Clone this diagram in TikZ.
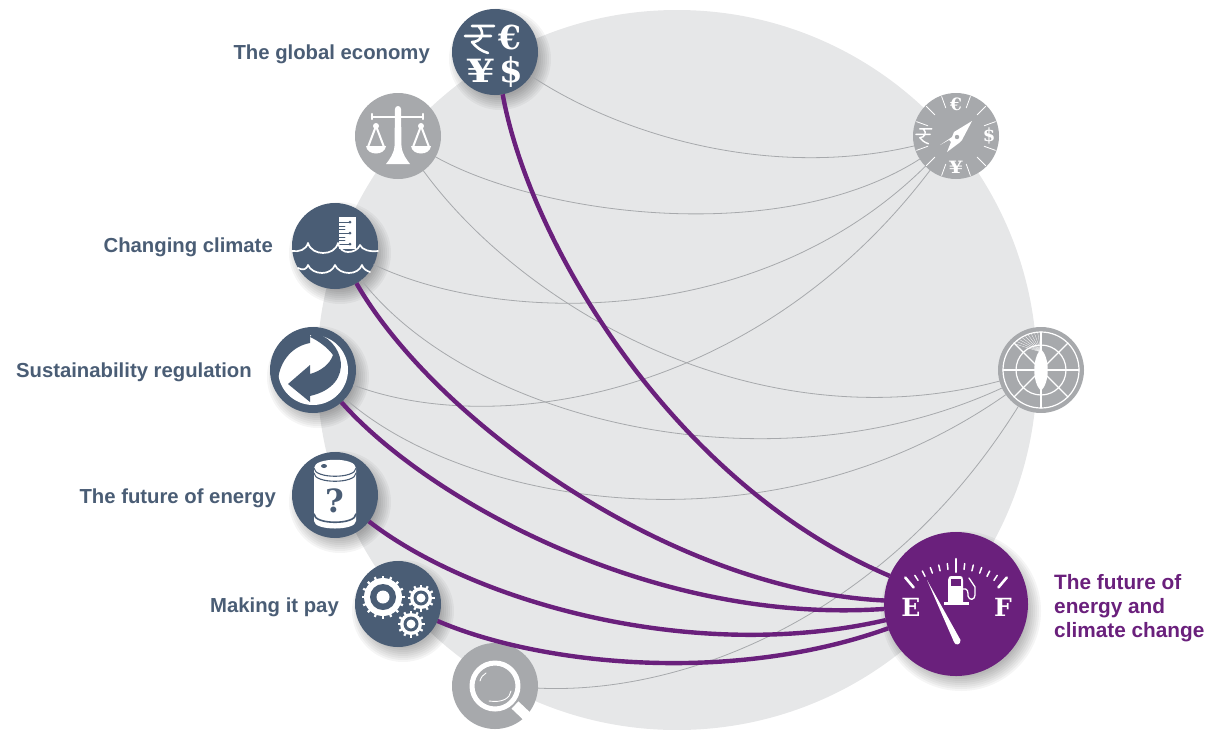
\documentclass[tikz,border=0pt]{standalone}
\usepackage{fontspec}
\setmainfont{Liberation Sans}
\newfontfamily\iconfont{DejaVu Serif}
\definecolor{slate}{HTML}{4A5D75}
\definecolor{mist}{HTML}{A7A9AC}
\definecolor{pale}{HTML}{E6E7E8}
\definecolor{plum}{HTML}{6A207C}
\tikzset{
	hub/.style={circle,minimum size=86pt,inner sep=0pt,outer sep=0pt},
	thread/.style={draw=mist,line width=0.8pt},
	strand/.style={draw=plum,line width=4.4pt,line cap=butt},
	caption/.style={text=slate,font=\bfseries\fontsize{20.3}{24}\selectfont,inner sep=0pt},
	sign/.style={text=white,inner sep=0pt,font=\iconfont\bfseries\fontsize{#1}{#1}\selectfont},
}
\newcommand{\rupeesign}[1]{\draw[white,line width=#1,line cap=round]
	(-6,-13)--(16,-13) (-13,-3)--(13,-3)
	(1,-12) .. controls (7,-7) and (4,3) .. (-6,3) .. controls (-2,8) and (3,12) .. (10,14);}
\newcommand{\gearwheel}[4]{
	\fill[white] (#1,#2) circle (#3);
	\foreach \a in {0,#4,...,359}
	\draw[white,line width=2.2pt,line cap=butt] (#1,#2)++(\a:#3-1)--++(\a:3.5);}
\begin{document}
\begin{tikzpicture}[x=1pt,y=-1pt,line join=round,line cap=round]
	\useasboundingbox (0,0) rectangle (1218,729);
	\fill[pale] (677,370) circle (360);
	
	\foreach \a/\b/\r in {495/52/43,335/246/43,313/370/43,335/495/43,398/604/43,956/604/72}
	\foreach \k in {0,...,7}
	\fill[black,opacity=.04] (\a+5,\b+7) circle ({\r+8-2*\k});
	
	\foreach \p/\c/\a/\b in {economy/slate/495/52,balance/mist/398/136,climate/slate/335/246,
		regulation/slate/313/370,energy/slate/335/495,profit/slate/398/604,search/mist/495/686,
		compass/mist/956/136,radar/mist/1041/370}
	\node[hub,fill=\c] (\p) at (\a,\b) {};
	\node[hub,fill=plum,minimum size=144pt] (fuel) at (956,604) {};
	
	\draw[thread] (economy) .. controls (620,135) and (770,180) .. (compass);
	\draw[thread] (balance) .. controls (540,215) and (780,248) .. (compass);
	\draw[thread] (climate) .. controls (500,325) and (760,330) .. (compass);
	\draw[thread] (regulation) .. controls (500,440) and (760,395) .. (compass);
	\draw[thread] (balance) .. controls (525,310) and (760,445) .. (radar);
	\draw[thread] (climate) .. controls (470,420) and (770,495) .. (radar);
	\draw[thread] (regulation) .. controls (465,505) and (770,560) .. (radar);
	\draw[thread] (search) .. controls (680,695) and (885,620) .. (radar);
	
	\draw[strand] (economy) .. controls (530,245) and (675,485) .. (fuel);
	\draw[strand] (climate) .. controls (435,420) and (670,590) .. (fuel);
	\draw[strand] (regulation) .. controls (425,497) and (650,625) .. (fuel);
	\draw[strand] (energy) .. controls (470,600) and (690,665) .. (fuel);
	\draw[strand] (profit) .. controls (540,665) and (730,685) .. (fuel);
	
	\node[caption,anchor=base east] (economylabel) at (430,59) {The global economy};
	\node[caption,anchor=base east] (climatelabel) at (273,252) {Changing climate};
	\node[caption,anchor=base east] (regulationlabel) at (252,377) {Sustainability regulation};
	\node[caption,anchor=base east] (energylabel) at (276,503) {The future of energy};
	\node[caption,anchor=base east] (profitlabel) at (339,612) {Making it pay};
	\node[caption,text=plum,font=\bfseries\fontsize{20.8}{24}\selectfont,anchor=west,align=left] (fuellabel) at (1054,608)
	{The future of\\energy and\\climate change};
	
	% currencies
	\begin{scope}[shift={(economy.center)}]
		\begin{scope}[shift={(-17,-13)}]
			\rupeesign{2.6pt}
		\end{scope}
		\node[sign=33] (euro) at (15,-15) {€};
		\node[sign=32,xscale=1.3] (yen) at (-14,19) {¥};
		\node[sign=34] (dollar) at (16,20) {\$};
	\end{scope}
	
	% scales
	\begin{scope}[shift={(balance.center)}]
		\fill[white] (-3,-27) arc[start angle=180,end angle=360,radius=3] -- (3.5,10) .. controls (4,18) and (9,24) .. (12,28) -- (-12,28) .. controls (-9,24) and (-4,18) .. (-3.5,10) -- cycle;
		\draw[white,line width=2.4pt] (-26,-19)--(25,-19) (-26,-22)--(-26,-17) (25,-22)--(25,-17);
		\foreach \s in {-22,23} {
			\fill[white] (\s,-10) circle (3);
			\draw[white,line width=2pt] (\s,-10)--(\s-8,11)--(\s+8,11)--cycle;
			\fill[white] (\s-10,10) .. controls (\s-9,20) and (\s+9,20) .. (\s+10,10) -- cycle;
		}
	\end{scope}
	
	% gauge and waves
	\begin{scope}[shift={(climate.center)}]
		\fill[white] (4,-29) rectangle (21,3);
		\foreach \y in {-24,-13,-2} {
			\draw[slate,line width=.9pt] (4,\y)--(15,\y);
			\fill[slate] (15,\y) circle (1.5);
		}
		\draw[slate,line width=.9pt] (4,-20)--(10,-20) (4,-17)--(10,-17) (4,-9)--(10,-9) (4,-6)--(10,-6);
		\draw[white,line width=1.7pt] (-43,5) .. controls (-36,6) and (-29,4) .. (-27,-3) .. controls (-25,4) and (-18,7) .. (-12,7) .. controls (-5,7) and (1,4) .. (3,-3) .. controls (5,4) and (9,6) .. (13,6) .. controls (18,6) and (23,4) .. (25,-1) .. controls (27,4) and (35,6) .. (43,5);
		\draw[white,line width=1.7pt] (-37,22) .. controls (-32,25) and (-28,23) .. (-27,19) .. controls (-25,24) and (-19,27) .. (-13,27) .. controls (-7,27) and (-2,24) .. (0,19) .. controls (2,24) and (8,27) .. (14,27) .. controls (20,27) and (25,24) .. (27,19) .. controls (28,23) and (32,25) .. (35,26);
	\end{scope}
	
	% recycling arrows
	\begin{scope}[shift={(regulation.center)}]
		\fill[white] (0,0) circle (35);
		\fill[slate] (-25,14)--(-3,-5)--(-3,4) .. controls (8,1) and (17,-6) .. (20,-15) .. controls (15,-22) and (6,-29) .. (-3,-33) -- (0,-37) .. controls (30,-33) and (45,15) .. (-3,26) -- (-3,32) -- cycle;
		\fill[slate] (-35,10) .. controls (-33,-10) and (-20,-24) .. (-3,-27) -- (-3,-38) -- (-25,-32) -- (-38,-8) -- (-37,10) -- cycle;
	\end{scope}
	
	% barrel
	\begin{scope}[shift={(energy.center)}]
		\fill[white] (-21,-27) .. controls (-21,-38) and (21,-38) .. (21,-27) -- (21,26) .. controls (21,36) and (-21,36) .. (-21,26) -- cycle;
		\draw[slate,line width=1.1pt] (-21,-27) .. controls (-21,-16) and (21,-16) .. (21,-27) (-21,-22) .. controls (-21,-11) and (21,-11) .. (21,-22);
		\draw[slate,line width=1.6pt] (-21,19) .. controls (-21,30) and (21,30) .. (21,19);
		\fill[slate] (-11,-29) ellipse (3 and 2);
		\node[sign=32,text=slate] (query) at (0,6) {?};
	\end{scope}
	
	% gears
	\begin{scope}[shift={(profit.center)}]
		\gearwheel{-15}{-7}{19}{22.5}
		\fill[slate] (-15,-7) circle (13);
		\fill[white] (-15,-7) circle (6.5);
		\gearwheel{23}{-6}{11}{30}
		\fill[slate] (23,-6) circle (7.5);
		\fill[white] (23,-6) circle (4.5);
		\gearwheel{13}{20}{11}{30}
		\fill[slate] (13,20) circle (7.5);
		\fill[white] (13,20) circle (4.5);
	\end{scope}
	
	% magnifier
	\begin{scope}[shift={(search.center)}]
		\draw[white,line width=5pt] (0,0) circle (23);
		\draw[white,line width=10pt,line cap=butt] (20,19)--(39,37);
		\draw[white,line width=.9pt] (-15,-5) .. controls (-14,-9) and (-12,-11) .. (-9,-13);
		\draw[white,line width=.9pt] (16,5) .. controls (15,12) and (8,17) .. (-6,15);
	\end{scope}
	
	% compass rocket
	\begin{scope}[shift={(compass.center)}]
		\foreach \a in {20,45,70,110,135,160,200,225,250,290,315,340}
		\draw[white,line width=.8pt] (\a:30)--(\a:42);
		\node[sign=17] (euro2) at (0,-32) {€};
		\node[sign=18] (dollar2) at (33,0) {\$};
		\node[sign=17,xscale=1.25] (yen2) at (0,31) {¥};
		\begin{scope}[shift={(-33,0)},scale=.55]
			\rupeesign{1.4pt}
		\end{scope}
		\fill[white] (16,-15)--(6,4)--(3,7)--(-9,16)--(-5,6)--(-7,4)--(-16,9)--(-4,1)--(-2,-4)--cycle;
		\fill[mist] (1,1) circle (2.2);
	\end{scope}
	
	% radar
	\begin{scope}[shift={(radar.center)}]
		\draw[white,line width=1.2pt] (0,0) circle (38) (0,0) circle (25);
		\foreach \a in {0,45,...,315}
		\draw[white,line width=1.2pt] (0,0)--(\a:38);
		\foreach \a in {95,100,...,135}
		\draw[white,line width=.3pt] (0,-18)--(-\a:37);
		\fill[white] (0,-21) .. controls (9,-12) and (9,12) .. (0,21) .. controls (-9,12) and (-9,-12) .. (0,-21) -- cycle;
	\end{scope}
	
	% fuel gauge
	\begin{scope}[shift={(fuel.center)}]
		\foreach \k in {1,...,5} {
			\draw[white,line width=1.5pt] (0,34)++(-90-\k*6.67:69)--++(-90-\k*6.67:6);
			\draw[white,line width=1.5pt] (0,34)++(-90+\k*6.67:69)--++(-90+\k*6.67:6);
		}
		\foreach \a in {-130,-90,-50}
		\draw[white,line width=2.6pt] (0,34)++(\a:66)--++(\a:13);
		\node[sign=25] (empty) at (-45,3) {E};
		\node[sign=25] (full) at (47,3) {F};
		\fill[white] (-29,-24)--(4.5,36)..controls (5,41) and (-1,42) .. (-2,38)--cycle;
		\fill[white] (-8,-24) .. controls (-8,-27) and (-6,-28) .. (-5,-28) -- (4,-28) .. controls (6,-28) and (7,-27) .. (7,-24) -- (7,-2) -- (-8,-2) -- cycle;
		\fill[white] (-12,-2) rectangle (13,1);
		\fill[plum] (-5,-25) rectangle (5,-18);
		\draw[white,line width=1.3pt] (7,-15) .. controls (12,-16) and (12,-12) .. (12,-8) .. controls (13,-3) and (19,-4) .. (19,-9) -- (19,-17) -- (13,-26);
	\end{scope}
\end{tikzpicture}
\end{document}
